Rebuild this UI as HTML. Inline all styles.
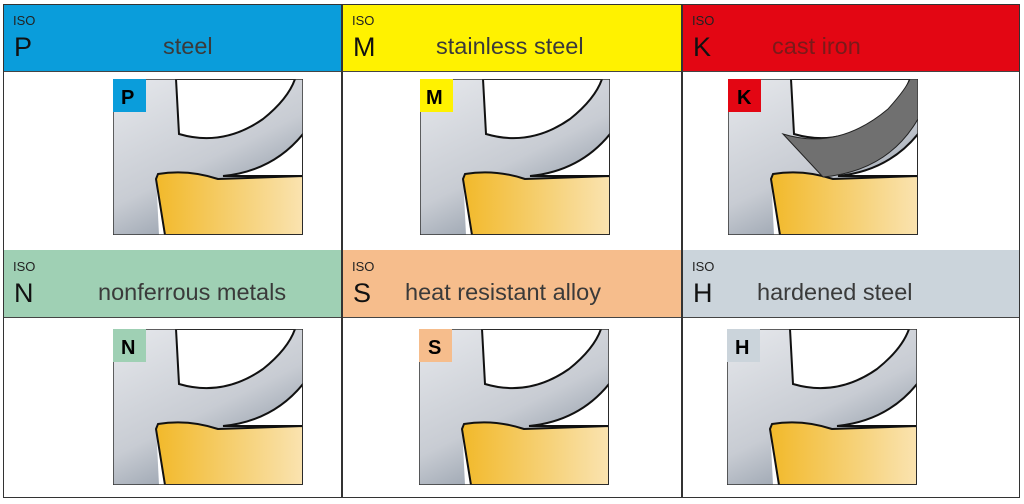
<!DOCTYPE html>
<html><head><meta charset="utf-8"><style>
body{margin:0;width:1024px;height:504px;background:#fff;position:relative;overflow:hidden;font-family:"Liberation Sans",sans-serif}
.h{position:absolute;height:67px;border-bottom:1.5px solid #444}
.iso{position:absolute;left:10px;top:9px;font-size:13px;color:#222}
.l{position:absolute;left:11px;top:28px;font-size:27px;color:#111}
.n{position:absolute;top:29px;font-size:23.5px;color:#3a3a3a}
.v{position:absolute;top:4px;width:1.5px;height:493px;background:#333}
svg.im{position:absolute;width:190px;height:156px}
</style></head><body>
<svg width="0" height="0" style="position:absolute"><defs>
<linearGradient id="g" x1="0" y1="0" x2="0.6" y2="1"><stop offset="0" stop-color="#e6e8ec"/><stop offset="0.6" stop-color="#c8ccd3"/><stop offset="1" stop-color="#8a95a3"/></linearGradient>
<linearGradient id="y" x1="0" y1="0" x2="1" y2="0"><stop offset="0" stop-color="#f2b92a"/><stop offset="0.6" stop-color="#f6d27a"/><stop offset="1" stop-color="#fae3b0"/></linearGradient>
<symbol id="base" viewBox="0 0 190 156">
<rect width="190" height="156" fill="url(#g)"/>
<path d="M63,0 L66,55 Q110,68 150,40 Q175,20 182,0 Z" fill="#fff" stroke="#111" stroke-width="2"/>
<path d="M190,55 Q160,92 110,97 L190,97 Z" fill="#fff" stroke="#111" stroke-width="2"/>
<path d="M43,95 L46,156 L52,156 Z" fill="#fff"/>
<path d="M45,95 Q75,90 105,100 L190,97 L190,156 L52,156 L43,100 Z" fill="url(#y)" stroke="#111" stroke-width="2"/>
<rect width="190" height="156" fill="none" stroke="#333" stroke-width="1.5"/>
</symbol></defs></svg>

<div class="h" style="left:3px;top:4px;width:338px;background:#0a9ddb"><div class="iso">ISO</div><div class="l">P</div><div class="n" style="left:160px">steel</div></div>
<div class="h" style="left:342px;top:4px;width:339px;background:#fff200"><div class="iso">ISO</div><div class="l">M</div><div class="n" style="left:94px">stainless steel</div></div>
<div class="h" style="left:682px;top:4px;width:337px;background:#e30613"><div class="iso">ISO</div><div class="l">K</div><div class="n" style="left:90px;color:#7a1a1a">cast iron</div></div>
<div class="h" style="left:3px;top:250px;width:338px;background:#9fd0b4"><div class="iso">ISO</div><div class="l">N</div><div class="n" style="left:95px">nonferrous metals</div></div>
<div class="h" style="left:342px;top:250px;width:339px;background:#f6bd8c"><div class="iso">ISO</div><div class="l">S</div><div class="n" style="left:63px">heat resistant alloy</div></div>
<div class="h" style="left:682px;top:250px;width:337px;background:#cbd4db"><div class="iso">ISO</div><div class="l">H</div><div class="n" style="left:75px">hardened steel</div></div>

<div style="position:absolute;left:3px;top:4px;width:1015px;height:492px;border:1.5px solid #333"></div>
<div class="v" style="left:341px"></div><div class="v" style="left:681px"></div>

<svg class="im" style="left:113px;top:79px" viewBox="0 0 190 156"><use href="#base"/><rect width="33" height="33" fill="#0a9ddb"/><text x="8" y="25" font-size="20" font-weight="bold" font-family="Liberation Sans">P</text></svg>
<svg class="im" style="left:420px;top:79px" viewBox="0 0 190 156"><use href="#base"/><rect width="33" height="33" fill="#fff200"/><text x="6" y="25" font-size="20" font-weight="bold" font-family="Liberation Sans">M</text></svg>
<svg class="im" style="left:728px;top:79px" viewBox="0 0 190 156"><use href="#base"/><path d="M55,55 Q110,72 160,30 Q178,10 182,0 L190,0 L190,40 Q160,92 95,98 Z" fill="#707070" stroke="#222"/><rect width="33" height="33" fill="#e30613"/><text x="9" y="25" font-size="20" font-weight="bold" font-family="Liberation Sans">K</text></svg>
<svg class="im" style="left:113px;top:329px" viewBox="0 0 190 156"><use href="#base"/><rect width="33" height="33" fill="#9fd0b4"/><text x="8" y="25" font-size="20" font-weight="bold" font-family="Liberation Sans">N</text></svg>
<svg class="im" style="left:419px;top:329px" viewBox="0 0 190 156"><use href="#base"/><rect width="33" height="33" fill="#f6bd8c"/><text x="9" y="25" font-size="20" font-weight="bold" font-family="Liberation Sans">S</text></svg>
<svg class="im" style="left:727px;top:329px" viewBox="0 0 190 156"><use href="#base"/><rect width="33" height="33" fill="#cbd4db"/><text x="8" y="25" font-size="20" font-weight="bold" font-family="Liberation Sans">H</text></svg>
</body></html>
